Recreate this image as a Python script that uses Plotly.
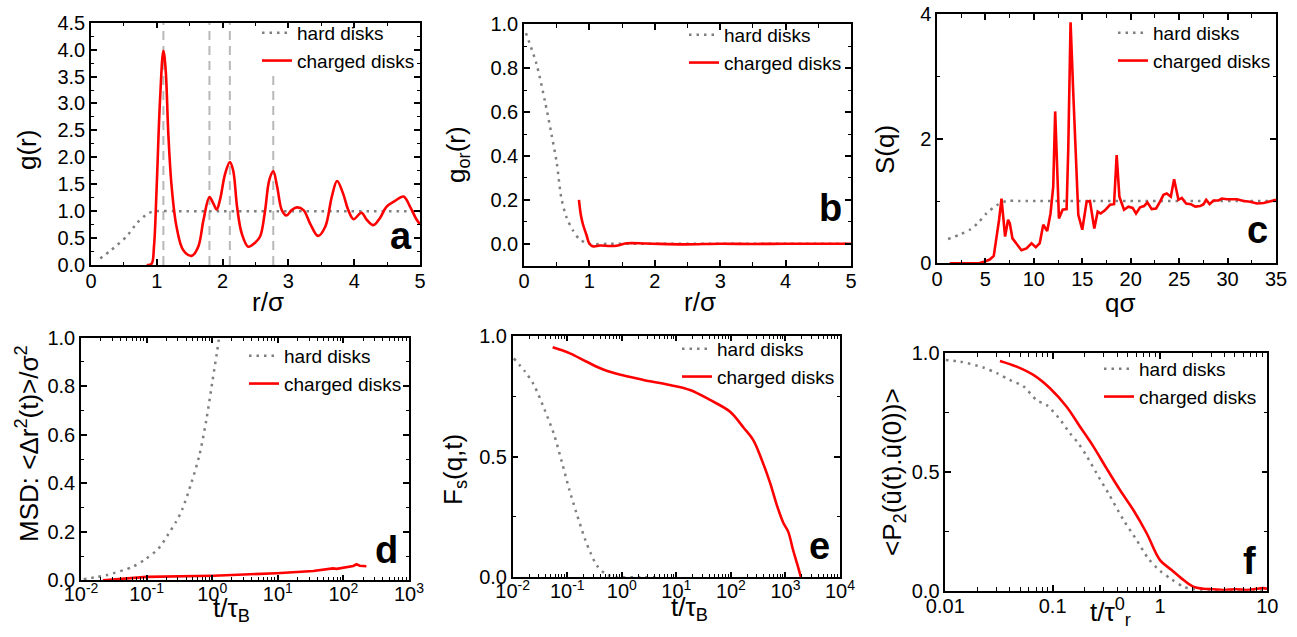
import plotly.graph_objects as go

# ---------------- data ----------------
# (a) g(r)
ga_hard_r = [0.14, 0.3, 0.54, 0.7, 0.87, 1.0, 1.3, 2.0, 5.0]
ga_hard_g = [0.12, 0.27, 0.53, 0.78, 0.96, 1.0, 1.0, 1.0, 1.0]
ga_chg_r = [0.846, 0.92, 0.957, 0.998, 1.049, 1.10, 1.135, 1.175, 1.226, 1.30, 1.40, 1.53, 1.63, 1.71,
            1.80, 1.86, 1.91, 1.96, 2.04, 2.11, 2.16, 2.22, 2.29, 2.39, 2.49, 2.57, 2.64, 2.71, 2.77,
            2.83, 2.90, 2.97, 3.05, 3.13, 3.23, 3.33, 3.45, 3.56, 3.66, 3.74, 3.83, 3.91, 3.99, 4.11,
            4.19, 4.29, 4.39, 4.49, 4.62, 4.75, 4.85, 4.95, 5.0]
ga_chg_g = [0.0, 0.02, 0.34, 1.45, 3.06, 3.98, 3.62, 2.44, 1.45, 0.71, 0.28, 0.17, 0.34, 0.84,
            1.26, 1.14, 1.03, 1.21, 1.70, 1.91, 1.76, 1.08, 0.59, 0.34, 0.41, 0.53, 0.96, 1.58, 1.74,
            1.45, 1.02, 0.92, 1.02, 1.07, 1.02, 0.77, 0.54, 0.71, 1.27, 1.56, 1.33, 1.02, 0.85, 0.97,
            0.84, 0.74, 0.87, 1.08, 1.19, 1.27, 1.08, 0.84, 0.76]
guide_r = [1.10, 1.80, 2.11, 2.77]
guide_top = [4.5, 4.5, 4.5, 3.55]

# (b) g_or(r)
gb_hard_r = [0.03, 0.19, 0.32, 0.42, 0.50, 0.57, 0.65, 0.75, 0.85, 1.0, 1.3, 2.0, 5.0]
gb_hard_g = [0.96, 0.82, 0.65, 0.50, 0.37, 0.21, 0.12, 0.06, 0.02, 0.0, 0.0, 0.0, 0.0]
gb_chg_r = [0.84, 0.87, 0.90, 0.955, 1.0, 1.06, 1.16, 1.31, 1.41, 1.57, 1.87, 2.44, 3.0, 3.5, 4.0, 4.5, 5.0]
gb_chg_g = [0.20, 0.13, 0.09, 0.04, 0.0, -0.012, -0.008, -0.01, -0.009, 0.002, 0.001, -0.003, 0.0,
            -0.001, 0.0, 0.0, 0.0]

# (c) S(q)
sc_hard_q = [1.14, 2.34, 3.4, 4.24, 5.1, 6.14, 7.17, 8.5, 12.0, 35.0]
sc_hard_s = [0.39, 0.46, 0.54, 0.65, 0.80, 0.93, 1.0, 1.0, 1.0, 1.0]
sc_chg_q = [1.31, 3.38, 4.41, 4.93, 5.45, 5.86, 6.14, 6.41, 6.66, 6.83, 7.03, 7.34, 7.52, 7.79, 8.21,
            8.72, 9.24, 9.76, 10.2, 10.6, 10.97, 11.38, 11.72, 12.0, 12.2, 12.41, 12.59, 12.97, 13.38,
            13.55, 13.79, 14.07, 14.34, 14.59, 15.0, 15.45, 15.79, 16.24, 16.59, 16.9, 17.34, 17.86,
            18.28, 18.55, 18.83, 19.31, 19.76, 20.2, 20.55, 20.97, 21.38, 21.72, 22.17, 22.62, 23.03,
            23.38, 23.72, 24.14, 24.48, 24.93, 25.28, 25.72, 26.21, 26.66, 27.17, 27.52, 27.79, 28.14,
            28.55, 29.07, 29.41, 29.93, 30.97, 31.66, 32.34, 33.03, 33.72, 34.41, 35.0]
sc_chg_s = [0.0, 0.0, 0.005, 0.03, 0.06, 0.12, 0.40, 0.70, 1.04, 0.80, 0.43, 0.70, 0.64, 0.40, 0.32,
            0.21, 0.24, 0.32, 0.26, 0.32, 0.62, 0.52, 0.80, 1.23, 2.44, 1.66, 0.72, 0.86, 0.87,
            1.82, 3.87, 2.73, 1.55, 0.78, 0.54, 0.99, 1.0, 0.56, 0.83, 0.80, 0.85, 0.94,
            0.95, 1.74, 1.07, 0.86, 0.91, 0.89, 0.80, 0.90, 0.92, 0.98, 0.87, 0.88, 0.99,
            1.10, 1.12, 1.07, 1.35, 1.02, 1.05, 0.96, 0.95, 0.91, 0.92, 0.95, 1.02, 0.95,
            1.01, 1.01, 1.04, 1.03, 1.03, 1.00, 0.99, 0.96, 0.97, 1.00, 1.02]

# (d) MSD
md_hard_t = [0.011, 0.0162, 0.0251, 0.0617, 0.0955, 0.151, 0.214, 0.279, 0.347, 0.479, 0.631, 0.813,
             1.007, 1.175, 1.259, 1.45]
md_hard_m = [0.004, 0.012, 0.022, 0.056, 0.087, 0.13, 0.19, 0.24, 0.29, 0.40, 0.51, 0.66,
             0.82, 0.935, 0.99, 1.12]
md_chg_t = [0.0216, 0.1, 1.05, 9.5, 34.7, 69.0, 79.4, 100.0, 126.0, 141.0, 158.0, 178.0, 200.0, 224.0]
md_chg_m = [0.0, 0.014, 0.019, 0.029, 0.038, 0.049, 0.047, 0.052, 0.055, 0.059, 0.066, 0.060, 0.059, 0.058]

# (e) Fs(q,t)
fe_hard_t = [0.0105, 0.017, 0.024, 0.039, 0.0575, 0.079, 0.11, 0.148, 0.214, 0.269, 0.347, 0.525,
             0.813, 2.0, 5.0]
fe_hard_f = [0.906, 0.85, 0.80, 0.69, 0.59, 0.48, 0.36, 0.265, 0.155, 0.10, 0.05, 0.011,
             0.001, 0.0, 0.0]
fe_chg_t = [0.054, 0.112, 0.227, 0.457, 1.0, 2.48, 7.59, 17.8, 41.4, 95.5, 170.0, 257.0, 363.0,
            525.0, 692.0, 912.0, 1122.0, 1380.0, 1660.0, 1928.0]
fe_chg_f = [0.952, 0.927, 0.892, 0.86, 0.837, 0.817, 0.796, 0.775, 0.734, 0.686, 0.62, 0.568, 0.49,
            0.39, 0.30, 0.226, 0.189, 0.113, 0.051, 0.0]

# (f) P2 orientational correlation
pf_hard_t = [0.0101, 0.0138, 0.0226, 0.0302, 0.0398, 0.0537, 0.0708, 0.0879, 0.115, 0.145, 0.174,
             0.209, 0.257, 0.331, 0.457, 0.607, 0.778, 1.0, 1.285, 1.648, 2.04, 2.92, 10.0]
pf_hard_p = [0.972, 0.965, 0.94, 0.916, 0.888, 0.86, 0.803, 0.782, 0.726, 0.663, 0.62,
             0.565, 0.494, 0.41, 0.298, 0.213, 0.136, 0.084, 0.048, 0.017, 0.006, 0.0, 0.0]
pf_chg_t = [0.0323, 0.0462, 0.0661, 0.0944, 0.135, 0.18, 0.24, 0.318, 0.424, 0.565, 0.752, 1.0,
            1.285, 1.585, 2.04, 2.535, 3.14, 3.87, 5.18, 6.41, 7.94, 9.12, 10.0]
pf_chg_p = [0.968, 0.944, 0.909, 0.853, 0.775, 0.691, 0.607, 0.515, 0.424, 0.34, 0.242, 0.129,
            0.087, 0.052, 0.017, 0.008, 0.006, 0.003, 0.006, 0.003, 0.008, 0.011, 0.008]

labels = ["hard disks", "charged disks"]
panel_letters = ["a", "b", "c", "d", "e", "f"]
x_titles = ["r/σ", "r/σ", "qσ", "t/τ<sub>B</sub>", "t/τ<sub>B</sub>", "t/τ<sup>0</sup><sub>r</sub>"]
y_titles = ["g(r)", "g<sub>or</sub>(r)", "S(q)", "MSD: &lt;Δr<sup>2</sup>(t)&gt;/σ<sup>2</sup>",
            "F<sub>s</sub>(q,t)", "&lt;P<sub>2</sub>(û(t).û(0))&gt;"]
log_ticks_d = [0.01, 0.1, 1, 10, 100, 1000]
log_ticks_e = [0.01, 0.1, 1, 10, 100, 1000, 10000]
log_text_d = ["10<sup>-2</sup>", "10<sup>-1</sup>", "10<sup>0</sup>", "10<sup>1</sup>",
              "10<sup>2</sup>", "10<sup>3</sup>"]
log_text_e = log_text_d + ["10<sup>4</sup>"]
f_ticks = [0.01, 0.1, 1, 10]
f_text = ["0.01", "0.1", "1", "10"]
c_yticks = [0, 2, 4]

# ---------------- styling ----------------
W, H = 1297, 637
FONT = "Liberation Sans, Arial, sans-serif"
RED = "#ff0000"
GRAY = "#7f7f7f"
hard_line = dict(color=GRAY, width=2.5, dash="2.5px,5px")
chg_line = dict(color=RED, width=2.6)

fig = go.Figure()

def add_pair(i, hx, hy, cx, cy, shape="linear"):
    sfx = "" if i == 1 else str(i)
    leg = "legend" if i == 1 else f"legend{i}"
    fig.add_trace(go.Scatter(x=hx, y=hy, mode="lines", line=dict(hard_line, shape="spline", smoothing=0.8),
                             name=labels[0], xaxis="x" + sfx, yaxis="y" + sfx, legend=leg))
    fig.add_trace(go.Scatter(x=cx, y=cy, mode="lines", line=dict(chg_line, shape=shape),
                             name=labels[1], xaxis="x" + sfx, yaxis="y" + sfx, legend=leg))

# guide lines for panel a
for r, top in zip(guide_r, guide_top):
    fig.add_trace(go.Scatter(x=[r, r], y=[0, top], mode="lines",
                             line=dict(color="#b8b8b8", width=2, dash="9px,6px"),
                             showlegend=False, hoverinfo="skip", xaxis="x", yaxis="y"))

add_pair(1, ga_hard_r, ga_hard_g, ga_chg_r, ga_chg_g, shape="spline")
add_pair(2, gb_hard_r, gb_hard_g, gb_chg_r, gb_chg_g, shape="spline")
add_pair(3, sc_hard_q, sc_hard_s, sc_chg_q, sc_chg_s, shape="linear")
add_pair(4, md_hard_t, md_hard_m, md_chg_t, md_chg_m, shape="linear")
add_pair(5, fe_hard_t, fe_hard_f, fe_chg_t, fe_chg_f, shape="spline")
add_pair(6, pf_hard_t, pf_hard_p, pf_chg_t, pf_chg_p, shape="spline")

def px2x(p):
    return p / W

def py2y(p):
    return 1 - p / H

# plot-area boxes in screen pixels: (left, right, top, bottom)
boxes = {
    1: (91, 420, 22.7, 265),
    2: (524, 851, 24.3, 265.7),
    3: (937, 1276, 14.3, 263.3),
    4: (81, 409, 337.7, 580.3),
    5: (512.7, 840, 335.7, 577.3),
    6: (945.3, 1267.3, 353.3, 590.7),
}

tickfont = dict(family=FONT, size=20, color="black")
titlefont = dict(family=FONT, size=26, color="black")
MINOR = dict(ticks="inside", ticklen=3.5, tickwidth=1.2, tickcolor="black", showgrid=False)

def base_axis(minor=None, **kw):
    d = dict(showline=True, linecolor="black", linewidth=1.5, mirror="ticks", ticks="inside",
             ticklen=6, tickwidth=1.5, tickcolor="black", showgrid=False, zeroline=False,
             tickfont=tickfont, automargin=False, ticklabeloverflow="allow")
    m = dict(MINOR)
    if minor:
        m.update(minor)
    d["minor"] = m
    d.update(kw)
    return d

log_minor_d = [m * 10.0 ** k for k in range(-2, 4) for m in range(2, 10)]
log_minor_f = [m * 10.0 ** k for k in range(-2, 1) for m in range(2, 10)]

axes = {}
axes[1] = (base_axis(range=[0, 5], dtick=1, ticklabelstandoff=-3, minor=dict(dtick=0.5)),
           base_axis(range=[0, 4.5], dtick=0.5, tickformat=".1f", minor=dict(dtick=0.25)))
axes[2] = (base_axis(range=[0, 5], dtick=1, ticklabelstandoff=-3, minor=dict(dtick=0.5)),
           base_axis(range=[-0.1, 1.0], tick0=0, dtick=0.2, tickformat=".1f", minor=dict(tick0=0, dtick=0.1)))
axes[3] = (base_axis(range=[0, 35], dtick=5, ticklabelstandoff=-3, minor=dict(dtick=2.5)),
           base_axis(range=[0, 4.0], tickmode="array", tickvals=c_yticks,
                     minor=dict(tickmode="array", tickvals=[1, 3])))
axes[4] = (base_axis(type="log", range=[-2, 3], tickmode="array", tickvals=log_ticks_d, ticktext=log_text_d,
                     ticklabelstandoff=-5, minor=dict(tickmode="array", tickvals=log_minor_d)),
           base_axis(range=[0, 1.0], dtick=0.2, tickformat=".1f", minor=dict(dtick=0.1)))
axes[5] = (base_axis(type="log", range=[-2, 4], tickmode="array", tickvals=log_ticks_e, ticktext=log_text_e,
                     ticklabelstandoff=-5, minor=dict(tickmode="array", tickvals=log_minor_d)),
           base_axis(range=[0, 1.0], dtick=0.5, tickformat=".1f", minor=dict(dtick=0.25)))
axes[6] = (base_axis(type="log", range=[-2, 1], tickmode="array", tickvals=f_ticks, ticktext=f_text,
                     ticklabelstandoff=-3, minor=dict(tickmode="array", tickvals=log_minor_f)),
           base_axis(range=[0, 1.0], dtick=0.5, tickformat=".1f", minor=dict(dtick=0.25)))

# axis-title centres in screen px
xtitle_pos = {1: (268, 302), 2: (700, 302), 3: (1120, 303), 4: (231, 609), 5: (689, 608), 6: (1110, 612)}
ytitle_pos = {1: (27, 150), 2: (457, 155), 3: (885, 150), 4: (27, 444), 5: (455, 470), 6: (893, 472)}

layout = dict(width=W, height=H, margin=dict(l=0, r=0, t=0, b=0, autoexpand=False), paper_bgcolor="white",
              plot_bgcolor="white", font=dict(family=FONT, color="black"))

# legend: (text right edge px, first row centre px)
legpos = {1: (420, 33), 2: (847, 35), 3: (1276, 33), 4: (407, 356), 5: (840, 349), 6: (1262, 369)}
letter_y = {1: 0.025, 2: 0.145, 3: 0.04, 4: 0.03, 5: 0.035, 6: 0.03}
letter_xs = {1: -6, 2: -7, 3: -6, 4: -9, 5: -8, 6: -9}

annotations = []
for i in range(1, 7):
    l, r, t, b = boxes[i]
    sfx = "" if i == 1 else str(i)
    xa, ya = axes[i]
    xa = dict(xa, domain=[px2x(l), px2x(r)], anchor="y" + sfx)
    ya = dict(ya, domain=[py2y(b), py2y(t)], anchor="x" + sfx)
    layout["xaxis" + sfx] = xa
    layout["yaxis" + sfx] = ya
    lx, ly = legpos[i]
    leg = dict(x=px2x(lx), y=py2y(ly - 19), xanchor="right", yanchor="top", bgcolor="rgba(0,0,0,0)",
               borderwidth=0, font=dict(family=FONT, size=19, color="black"),
               tracegroupgap=0, itemwidth=30)
    layout["legend" if i == 1 else f"legend{i}"] = leg
    annotations.append(dict(text=f"<b>{panel_letters[i-1]}</b>", xref=f"x{sfx} domain",
                            yref=f"y{sfx} domain", x=1, xshift=letter_xs[i], y=letter_y[i],
                            xanchor="right", yanchor="bottom", showarrow=False,
                            font=dict(family=FONT, size=38, color="black")))
    cx, cy = xtitle_pos[i]
    annotations.append(dict(text=x_titles[i-1], xref="paper", yref="paper", x=px2x(cx), y=py2y(cy),
                            xanchor="center", yanchor="middle", showarrow=False, font=titlefont))
    cx, cy = ytitle_pos[i]
    annotations.append(dict(text=y_titles[i-1], xref="paper", yref="paper", x=px2x(cx), y=py2y(cy),
                            xanchor="center", yanchor="middle", textangle=-90, showarrow=False,
                            font=titlefont))
layout["annotations"] = annotations

fig.update_layout(**layout)
fig.write_html("out.html", config={"displayModeBar": False},
               post_script="document.body.style.margin='0px';")
